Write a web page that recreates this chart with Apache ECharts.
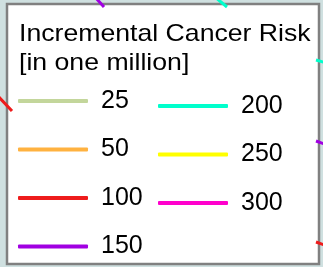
<!DOCTYPE html>
<html>
<head>
    <meta charset="utf-8">
    <title>Incremental Cancer Risk</title>
    <script src="https://cdn.jsdelivr.net/npm/echarts@6/dist/echarts.min.js"></script>
</head>
<style>
    html, body, #main {
        width: 100%;
        height: 100%;
        margin: 0;
    }
</style>
<body>
<div id='main'></div>
<script>
    // risk levels shown in the legend (two columns)
    var levelsLeft = ['25', '50', '100', '150'];
    var levelsRight = ['200', '250', '300'];
    var levelColors = ['#c3d69b', '#ffb240', '#ee1c1c', '#a100e2', '#00ffcc', '#ffff00', '#ff00cc'];

    // bits of the contour lines peeking out behind the legend (map units)
    var contour100 = [[-3, 95], [12, 111], [null, null], [316, 242], [330, 247]];
    var contour150 = [[95, -3], [104, 7], [null, null], [316, 141], [330, 146]];
    var contour200 = [[215, -3], [227, 7], [null, null], [316, 60], [330, 64]];
    var fragments = {'100': contour100, '150': contour150, '200': contour200};

    var allLevels = levelsLeft.concat(levelsRight);
    var series = allLevels.map(function (name, i) {
        return {
            name: name,
            type: 'line',
            data: fragments[name] || [],
            showSymbol: false,
            connectNulls: false,
            color: levelColors[i],
            lineStyle: {width: 3, color: levelColors[i]},
            silent: true,
            animation: false
        };
    });

    var legendBase = {
        orient: 'vertical',
        icon: 'roundRect',
        itemWidth: 70,
        itemHeight: 4,
        itemGap: 10.5,
        padding: 0,
        z: 6,
        selectedMode: false,
        textStyle: {
            fontFamily: 'Liberation Sans',
            fontSize: 25,
            color: '#000',
            lineHeight: 28,
            padding: [10, 0, 0, 8]
        }
    };

    var chart = echarts.init(document.getElementById('main'));
    var option = {
        backgroundColor: '#cfe0e0',
        animation: false,
        grid: {left: 0, right: 0, top: 0, bottom: 0},
        xAxis: {type: 'value', min: 0, max: 323, show: false},
        yAxis: {type: 'value', min: 0, max: 267, inverse: true, show: false},
        graphic: {
            z: 3,
            elements: [{
                type: 'rect',
                shape: {x: 7, y: 4, width: 312, height: 260},
                style: {fill: '#fff', stroke: '#808080', lineWidth: 2.5}
            }, {
                // legend heading, a bit wider than plain Arial
                type: 'text',
                x: 19,
                y: 20,
                scaleX: 1.11,
                z: 6,
                style: {
                    text: 'Incremental Cancer Risk\n[in one million]',
                    font: '24px "Liberation Sans"',
                    lineHeight: 29,
                    fill: '#000'
                }
            }]
        },
        legend: [
            Object.assign({}, legendBase, {data: levelsLeft, left: 18, top: 82}),
            Object.assign({}, legendBase, {data: levelsRight, left: 158, top: 87})
        ],
        series: series
    };
    chart.setOption(option);

    window.onresize = chart.resize;
</script>
</body>
</html>
